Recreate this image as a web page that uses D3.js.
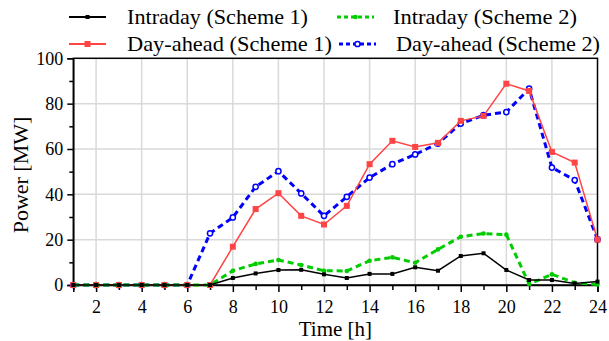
<!DOCTYPE html>
<html><head><meta charset="utf-8">
<script src="https://cdn.jsdelivr.net/npm/d3@7"></script>
<style>body{margin:0;background:#fff}svg{display:block}svg text{font-family:"Liberation Serif";}</style>
</head><body><svg id="c" width="609" height="341"></svg>
<script>
const FONT = "Liberation Serif";
const hours = d3.range(1, 25);
const intradayS1 = [0,0,0,0,0,0,0,3.1,5.1,6.6,6.7,4.7,3.1,4.9,4.9,7.8,6.3,12.8,14.0,6.6,2.2,2.2,0.7,1.5];
const intradayS2 = [0,0,0,0,0,0,0,6.3,9.3,11.0,8.8,6.3,6.2,10.7,12.2,9.8,15.7,21.3,22.7,22.2,0.4,4.7,1.0,0.2];
const dayAheadS1 = [0,0,0,0,0,0,0,16.9,33.5,40.5,30.5,26.7,34.9,53.3,63.6,60.9,62.7,72.4,74.6,88.8,85.6,58.7,54.0,20.0];
const dayAheadS2 = [0,0,0,0,0,0,22.8,29.8,43.3,50.2,40.4,30.5,38.9,47.4,53.3,57.6,62.4,71.2,74.9,76.3,86.6,51.8,46.3,20.1];
const seriesNames = ["Intraday (Scheme 1)","Intraday (Scheme 2)","Day-ahead (Scheme 1)","Day-ahead (Scheme 2)"];
const yTicks = [0,20,40,60,80,100];
const xTicks = [2,4,6,8,10,12,14,16,18,20,22,24];

const svg = d3.select("#c");
const L=73.3, R=597.5, T=58.3, B=285;
const x = d3.scaleLinear().domain([1,24]).range([L,R]);
const y = d3.scaleLinear().domain([0,100]).range([B,T]);

// grid
const g = svg.append("g");
g.selectAll(".gx").data(xTicks.filter(d=>d<24)).enter().append("line")
  .attr("x1",d=>x(d)).attr("x2",d=>x(d)).attr("y1",T).attr("y2",B)
  .attr("stroke","#d9d9d9").attr("stroke-width",1.5);
g.selectAll(".gy").data(yTicks.filter(d=>d>0&&d<100)).enter().append("line")
  .attr("x1",L).attr("x2",R).attr("y1",d=>y(d)).attr("y2",d=>y(d))
  .attr("stroke","#d9d9d9").attr("stroke-width",1.5);

// frame
svg.append("rect").attr("x",L).attr("y",T).attr("width",R-L).attr("height",B-T)
  .attr("fill","none").attr("stroke","#000").attr("stroke-width",1.5);

// x axis
const xAxis = d3.axisBottom(x).tickValues(xTicks).tickSize(7).tickPadding(8).tickFormat(d3.format("d"));
const xa = svg.append("g").attr("transform",`translate(0,${B})`).call(xAxis);
const xMinor = svg.append("g").attr("transform",`translate(0,${B})`)
  .call(d3.axisBottom(x).tickValues(d3.range(1,25,2)).tickSize(5).tickFormat(""));
// y axis
const yAxis = d3.axisLeft(y).tickValues(yTicks).tickSize(6).tickPadding(4).tickFormat(d3.format("d"));
const ya = svg.append("g").attr("transform",`translate(${L},0)`).call(yAxis);
const yMinor = svg.append("g").attr("transform",`translate(${L},0)`)
  .call(d3.axisLeft(y).tickValues(d3.range(10,100,20)).tickSize(4).tickFormat(""));
[xa,ya,xMinor,yMinor].forEach(a=>{
  a.attr("font-family",FONT).attr("font-size",18);
  a.select(".domain").attr("stroke","#000").attr("stroke-width",1.5);
  a.selectAll(".tick line").attr("stroke","#000").attr("stroke-width",1.5);
  a.selectAll("text").attr("font-size",18).attr("fill","#000").style("font-family",FONT);
});
xMinor.select(".domain").remove(); yMinor.select(".domain").remove();

// titles
svg.append("text").attr("x",(L+R)/2).attr("y",336).attr("text-anchor","middle")
  .style("font-family",FONT).attr("font-size",21).text("Time [h]");
svg.append("text").attr("transform",`translate(28,175) rotate(-90)`).attr("text-anchor","middle")
  .style("font-family",FONT).attr("font-size",22).text("Power [MW]");

const styles = [
  {data:intradayS1,color:"#000000",w:1.5,dash:null,marker:"dot"},
  {data:intradayS2,color:"#00cc00",w:3,dash:"6,4",marker:"gdot"},
  {data:dayAheadS1,color:"#ff4444",w:1.5,dash:null,marker:"square"},
  {data:dayAheadS2,color:"#0000ff",w:3,dash:"6,4",marker:"hollow"}
];
const line = d3.line().x((d,i)=>x(hours[i])).y(d=>y(d));
function drawMarker(sel, s, cx, cy){
  if(s.marker==="dot") sel.append("rect").attr("x",cx-2).attr("y",cy-2).attr("width",4).attr("height",4).attr("fill",s.color);
  else if(s.marker==="gdot") sel.append("circle").attr("cx",cx).attr("cy",cy).attr("r",2.3).attr("fill",s.color);
  else if(s.marker==="square") sel.append("rect").attr("x",cx-3).attr("y",cy-3).attr("width",6).attr("height",6).attr("fill",s.color);
  else sel.append("circle").attr("cx",cx).attr("cy",cy).attr("r",2.6).attr("fill","#fff").attr("stroke",s.color).attr("stroke-width",1.5);
}
const order=[3,2,1,0];
order.forEach(k=>{
  const s=styles[k];
  svg.append("path").datum(s.data).attr("d",line).attr("fill","none")
    .attr("stroke",s.color).attr("stroke-width",s.w).attr("stroke-dasharray",s.dash);
  const mg=svg.append("g");
  s.data.forEach((v,i)=>drawMarker(mg,s,x(hours[i]),y(v)));
});

// legend
const legPos=[[69,127,17,24,181],[337,393,17,24,184],[69,127,44,51,205],[339,396,44,51,204]];
styles.forEach((s,k)=>{
  const [lx,tx,ly,ty,tw]=legPos[k];
  const lg=svg.append("g");
  lg.append("line").attr("x1",lx).attr("x2",lx+37).attr("y1",ly).attr("y2",ly)
    .attr("stroke",s.color).attr("stroke-width",s.w===3?3:2).attr("stroke-dasharray",s.dash?"4,3":null);
  drawMarker(lg,s,lx+18.5,ly);
  lg.append("text").attr("x",tx).attr("y",ty).style("font-family",FONT).attr("font-size",21)
    .attr("textLength",tw).attr("lengthAdjust","spacingAndGlyphs").text(seriesNames[k]);
});
</script></body></html>
